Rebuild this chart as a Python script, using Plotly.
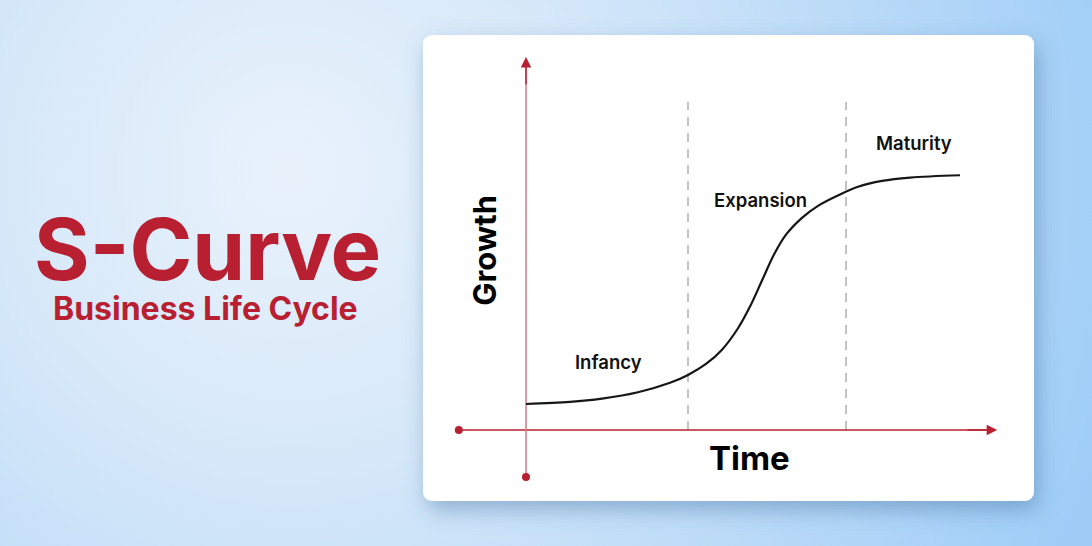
import base64
import plotly.graph_objects as go

# S-curve (time, growth)
time = [0, 1.1, 1.9, 2.8, 3.6, 4.05, 4.5, 4.9, 5.3, 5.6, 5.9, 6.2, 6.5, 6.9, 7.3, 7.8, 8.3, 8.9, 9.6, 10.85]
growth = [10.2, 11.0, 12.3, 14.8, 18.5, 21.6, 25.9, 31.5, 39.9, 48.4, 58.6, 68.8, 76.6, 83.2, 87.9, 92.0, 95.4, 97.7, 99.0, 99.9]
phase_bounds = [4.05, 8.0]
phase_names = ["Infancy", "Expansion", "Maturity"]

RED = "#b81f31"
W, H = 1092, 546
FONT = "Inter"

# background gradient + white card with a soft shadow
svg = f"""<svg xmlns='http://www.w3.org/2000/svg' width='{W}' height='{H}' viewBox='0 0 {W} {H}'>
<defs>
<radialGradient id='bg' gradientUnits='userSpaceOnUse' cx='290' cy='170' r='860'>
<stop offset='0' stop-color='#e9f2fb'/>
<stop offset='0.35' stop-color='#d6e8f9'/>
<stop offset='1' stop-color='#9fcdf7'/>
</radialGradient>
<filter id='sh' x='-20%' y='-20%' width='140%' height='150%'>
<feDropShadow dx='4' dy='9' stdDeviation='11' flood-color='#3f6f9f' flood-opacity='0.45'/>
</filter>
</defs>
<rect width='{W}' height='{H}' fill='url(#bg)'/>
<rect x='423' y='35' width='611' height='466' rx='9' ry='9' fill='#ffffff' filter='url(#sh)'/>
</svg>"""
bg_src = "data:image/svg+xml;base64," + base64.b64encode(svg.encode()).decode()

fig = go.Figure()

# dashed phase boundaries
for b in phase_bounds:
    fig.add_trace(go.Scatter(x=[b, b], y=[0, 128.6], mode="lines",
                             line=dict(color="#b5b5b5", width=1.6, dash="9px,7px"),
                             hoverinfo="skip", showlegend=False))

# axes lines
fig.add_trace(go.Scatter(x=[-1.68, 11.7], y=[0, 0], mode="lines",
                         line=dict(color=RED, width=1.4), hoverinfo="skip", showlegend=False))
fig.add_trace(go.Scatter(x=[0, 0], y=[-18.4, 145], mode="lines",
                         line=dict(color="#d4818e", width=1.6), hoverinfo="skip", showlegend=False))
fig.add_trace(go.Scatter(x=[-1.68, 0], y=[0, -18.4], mode="markers",
                         marker=dict(color=RED, size=8), hoverinfo="skip", showlegend=False))

# the curve
fig.add_trace(go.Scatter(x=time, y=growth, mode="lines", line_shape="spline",
                         line=dict(color="#161616", width=2.2, smoothing=1.0), showlegend=False))

# arrow heads
fig.add_annotation(x=11.78, y=0, ax=11.0, ay=0, xref="x", yref="y", axref="x", ayref="y",
                   showarrow=True, arrowhead=2, arrowsize=1.5, arrowwidth=1.4, arrowcolor=RED, text="")
fig.add_annotation(x=0, y=146.3, ax=0, ay=135, xref="x", yref="y", axref="x", ayref="y",
                   showarrow=True, arrowhead=2, arrowsize=1.5, arrowwidth=1.4, arrowcolor=RED, text="")

# phase labels
label_pos = [(2.05, 26.7), (5.85, 90.2), (9.7, 112.5)]
for name, (lx, ly) in zip(phase_names, label_pos):
    fig.add_annotation(x=lx, y=ly, text=name, showarrow=False,
                       font=dict(family=FONT, size=18.5, color="#111111", weight=600))

# axis titles
fig.add_annotation(x=-1.03, y=70.6, text="Growth", textangle=-90, showarrow=False,
                   font=dict(family=FONT, size=31, color="#000000", weight=700))
fig.add_annotation(x=5.58, y=-11, text="Time", showarrow=False,
                   font=dict(family=FONT, size=33, color="#000000", weight=700))

# left heading
fig.add_annotation(x=207 / W, y=1 - 250 / H, xref="paper", yref="paper", text="S-Curve",
                   xanchor="center", yanchor="middle",
                   showarrow=False, font=dict(family=FONT, size=85, color=RED, weight=700))
fig.add_annotation(x=205 / W, y=1 - 308 / H, xref="paper", yref="paper", text="Business Life Cycle",
                   xanchor="center", yanchor="middle",
                   showarrow=False, font=dict(family=FONT, size=32, color=RED, weight=700))

fig.update_layout(
    width=W, height=H,
    margin=dict(l=0, r=0, t=0, b=0),
    paper_bgcolor="#d3e6f8", plot_bgcolor="rgba(0,0,0,0)",
    images=[dict(source=bg_src, xref="paper", yref="paper", x=0, y=1, sizex=1, sizey=1,
                 sizing="stretch", xanchor="left", yanchor="top", layer="below")],
    xaxis=dict(range=[-526 / 40, (W - 526) / 40], visible=False, fixedrange=True),
    yaxis=dict(range=[-(H - 430) / 2.55, 430 / 2.55], visible=False, fixedrange=True),
    showlegend=False,
)

fig.write_html("out.html", config=dict(displayModeBar=False),
               post_script="document.body.style.margin='0';")
